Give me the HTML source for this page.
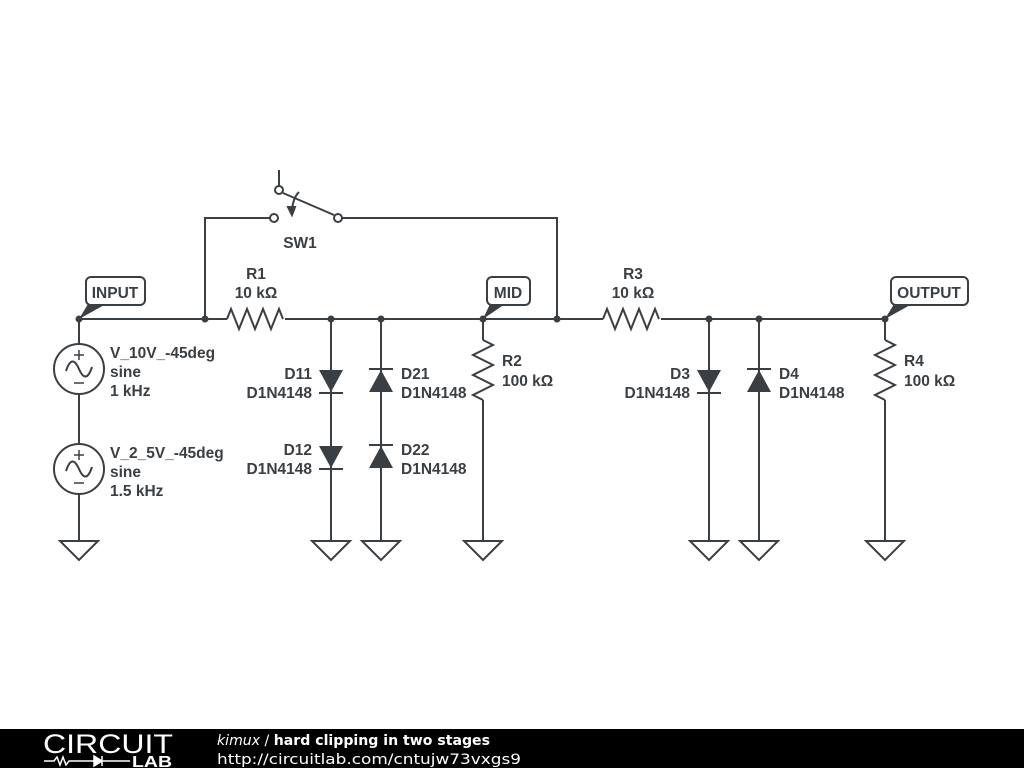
<!DOCTYPE html>
<html><head><style>
body{margin:0;width:1024px;height:768px;background:#fff;overflow:hidden;position:relative;font-family:"Liberation Sans",sans-serif}
svg{position:absolute;left:0;top:0}
</style></head><body>
<svg width="1024" height="768" viewBox="0 0 1024 768">
<g stroke="#3a3f44" stroke-width="2" fill="none">
<path d="M79 319H227 M285 319H603 M661 319H885"/>
<path d="M227 319l4 -10l8 20l8 -20l8 20l8 -20l8 20l8 -20l4 10 M603 319l4 -10l8 20l8 -20l8 20l8 -20l8 20l8 -20l4 10"/>
<path d="M205 319V218H270 M342 218H557V319 M279 170V186 M283 193L334 215"/>
<circle cx="274" cy="218" r="4" fill="#fff"/><circle cx="338" cy="218" r="4" fill="#fff"/><circle cx="279" cy="190" r="4" fill="#fff"/>
<path d="M299 192q-6 6 -7 18" /><path d="M288 207l4 8l3 -8z" fill="#3a3f44"/>
<path d="M79 319V344 M79 394V444 M79 494V541"/>
<circle cx="79" cy="369" r="25"/><circle cx="79" cy="469" r="25"/>
<path d="M66 371q6 -18 13 -2t13 -2 M66 471q6 -18 13 -2t13 -2"/>
<path d="M79 350v10 M74 355h10 M74 383h10 M79 450v10 M74 455h10 M74 483h10" stroke-width="1.5"/>
<path d="M331 319V541 M381 319V541 M483 319V340 M483 400V541 M709 319V541 M759 319V541 M885 319V340 M885 400V541"/>
<path d="M483 340l10 5l-20 10l20 10l-20 10l20 10l-20 10l10 5 M885 340l10 5l-20 10l20 10l-20 10l20 10l-20 10l10 5"/>
<path d="M319 393h24 M319 469h24 M369 369h24 M369 445h24 M697 393h24 M747 369h24"/>
<path d="M60 541H98L79 560Z M312 541H350L331 560Z M362 541H400L381 560Z M464 541H502L483 560Z M690 541H728L709 560Z M740 541H778L759 560Z M866 541H904L885 560Z"/>
<rect x="86" y="277" width="59" height="28" rx="5" fill="#fff"/>
<rect x="487" y="277" width="43" height="28" rx="5" fill="#fff"/>
<rect x="891" y="277" width="77" height="28" rx="5" fill="#fff"/>
</g>
<g fill="#3a3f44">
<path d="M319 370h24l-12 22z M319 446h24l-12 22z M369 392h24l-12 -22z M369 468h24l-12 -22z M697 370h24l-12 22z M747 392h24l-12 -22z"/>
<path d="M79 319L88 304L106 304Z M483 319L490 304L505 304Z M885 319L894 304L912 304Z"/>
<circle cx="79" cy="319" r="3.5"/><circle cx="205" cy="319" r="3.5"/><circle cx="331" cy="319" r="3.5"/><circle cx="381" cy="319" r="3.5"/><circle cx="483" cy="319" r="3.5"/><circle cx="557" cy="319" r="3.5"/><circle cx="709" cy="319" r="3.5"/><circle cx="759" cy="319" r="3.5"/><circle cx="885" cy="319" r="3.5"/>
</g>
<g fill="#3a3f44" font-family="Liberation Sans,sans-serif" font-weight="bold" font-size="15.5">
<text x="115" y="298" text-anchor="middle">INPUT</text>
<text x="508" y="298" text-anchor="middle">MID</text>
<text x="929" y="298" text-anchor="middle">OUTPUT</text>
<text x="300" y="248" text-anchor="middle">SW1</text>
<text x="256" y="279" text-anchor="middle">R1</text><text x="256" y="298" text-anchor="middle">10 kΩ</text>
<text x="633" y="279" text-anchor="middle">R3</text><text x="633" y="298" text-anchor="middle">10 kΩ</text>
<text x="110" y="358">V_10V_-45deg</text><text x="110" y="377">sine</text><text x="110" y="396">1 kHz</text>
<text x="110" y="458">V_2_5V_-45deg</text><text x="110" y="477">sine</text><text x="110" y="496">1.5 kHz</text>
<text x="312" y="379" text-anchor="end">D11</text><text x="312" y="398" text-anchor="end">D1N4148</text>
<text x="312" y="455" text-anchor="end">D12</text><text x="312" y="474" text-anchor="end">D1N4148</text>
<text x="401" y="379">D21</text><text x="401" y="398">D1N4148</text>
<text x="401" y="455">D22</text><text x="401" y="474">D1N4148</text>
<text x="502" y="366">R2</text><text x="502" y="386">100 kΩ</text>
<text x="690" y="379" text-anchor="end">D3</text><text x="690" y="398" text-anchor="end">D1N4148</text>
<text x="779" y="379">D4</text><text x="779" y="398">D1N4148</text>
<text x="904" y="366">R4</text><text x="904" y="386">100 kΩ</text>
</g>
<rect x="0" y="729" width="1024" height="39" fill="#000"/>
<text x="43" y="753" fill="#fff" font-family="Liberation Sans,sans-serif" font-size="27" textLength="130" lengthAdjust="spacingAndGlyphs">CIRCUIT</text>
<path d="M44 761h10l3 -4l3 8l3 -8l3 8l3 -4h25 M102 761h28" stroke="#fff" stroke-width="1.5" fill="none"/>
<path d="M94 756v10l8 -5z M102 756v10" fill="#fff" stroke="#fff" stroke-width="1.5"/>
<text x="132" y="767" fill="#fff" font-family="Liberation Sans,sans-serif" font-weight="bold" font-size="16" textLength="40" lengthAdjust="spacingAndGlyphs">LAB</text>
<text x="217" y="745" fill="#fff" font-family="DejaVu Sans,sans-serif" font-size="14.5" textLength="273" lengthAdjust="spacingAndGlyphs"><tspan font-style="italic">kimux</tspan> / <tspan font-weight="bold">hard clipping in two stages</tspan></text>
<text x="217" y="764" fill="#fff" font-family="DejaVu Sans,sans-serif" font-size="14.5" textLength="304" lengthAdjust="spacingAndGlyphs">http://circuitlab.com/cntujw73vxgs9</text>
</svg>
</body></html>
